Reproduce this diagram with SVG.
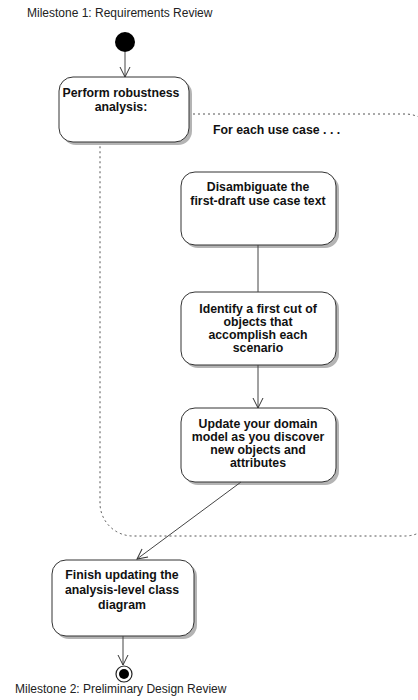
<svg xmlns="http://www.w3.org/2000/svg" width="418" height="700" viewBox="0 0 418 700">
<defs>
<marker id="open" viewBox="0 0 12 12" refX="11" refY="6" markerWidth="12" markerHeight="12" markerUnits="userSpaceOnUse" orient="auto">
<path d="M1,1 L11,6 L1,11" fill="none" stroke="#333" stroke-width="1"/>
</marker>
</defs>
<style>
.lbl{font-family:"Liberation Sans",Arial,sans-serif;font-size:12px;fill:#222}
.bt{font-family:"Liberation Sans",Arial,sans-serif;font-size:12.3px;font-weight:bold;fill:#111;text-anchor:middle}
.box{fill:#fff;stroke:#333;stroke-width:1}
.sh{fill:#b4b4b4}
.edge{fill:none;stroke:#444;stroke-width:1;marker-end:url(#open)}
.region{fill:none;stroke:#555;stroke-width:1;stroke-dasharray:2,3}
</style>
<rect width="418" height="700" fill="#fff"/>
<g id="region">
<rect class="region" x="100" y="114" width="338" height="422" rx="33" ry="33"/>
</g>
<text class="lbl" x="27" y="17">Milestone 1: Requirements Review</text>
<g id="start"><circle cx="125" cy="42" r="10" fill="#000"/></g>
<g id="perform">
<rect class="sh" x="62" y="80" width="130" height="65" rx="14"/>
<rect class="box" x="59" y="77" width="130" height="65" rx="14"/>
<text class="bt" x="121" y="97">Perform robustness</text>
<text class="bt" x="121" y="111">analysis:</text>
</g>
<text class="bt" x="213" y="134" style="text-anchor:start">For each use case . . .</text>
<g id="disambiguate">
<rect class="sh" x="184" y="175" width="155" height="73" rx="14"/>
<rect class="box" x="181" y="172" width="155" height="73" rx="14"/>
<text class="bt" x="258" y="191">Disambiguate the</text>
<text class="bt" x="258" y="205">first-draft use case text</text>
</g>
<g id="identify">
<rect class="sh" x="184" y="295" width="155" height="73" rx="14"/>
<rect class="box" x="181" y="292" width="155" height="73" rx="14"/>
<text class="bt" x="258" y="313">Identify a first cut of</text>
<text class="bt" x="258" y="326">objects that</text>
<text class="bt" x="258" y="339">accomplish each</text>
<text class="bt" x="258" y="352">scenario</text>
</g>
<g id="update">
<rect class="sh" x="184" y="411" width="155" height="74" rx="14"/>
<rect class="box" x="181" y="408" width="155" height="74" rx="14"/>
<text class="bt" x="258" y="428">Update your domain</text>
<text class="bt" x="258" y="441">model as you discover</text>
<text class="bt" x="258" y="454">new objects and</text>
<text class="bt" x="258" y="467">attributes</text>
</g>
<g id="finish">
<rect class="sh" x="55" y="563" width="142" height="76" rx="14"/>
<rect class="box" x="52" y="560" width="142" height="76" rx="14"/>
<text class="bt" x="122" y="579">Finish updating the</text>
<text class="bt" x="122" y="594">analysis-level class</text>
<text class="bt" x="122" y="609">diagram</text>
</g>
<g id="end">
<circle cx="124" cy="674" r="8" fill="#fff" stroke="#222" stroke-width="1.2"/>
<circle cx="124" cy="674" r="5" fill="#000"/>
</g>
<text class="lbl" x="15" y="693">Milestone 2: Preliminary Design Review</text>
<g id="connectors">
<line class="edge" x1="125" y1="52" x2="125" y2="77"/>
<line x1="258" y1="245" x2="258" y2="292" stroke="#444" stroke-width="1"/>
<line class="edge" x1="258" y1="365" x2="258" y2="408"/>
<line class="edge" x1="241" y1="482" x2="137" y2="559"/>
<line class="edge" x1="123" y1="636" x2="123" y2="665"/>
</g>
</svg>
